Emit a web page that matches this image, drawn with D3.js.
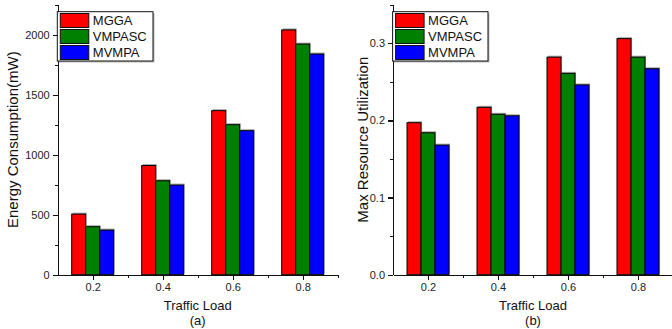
<!DOCTYPE html>
<html lang="en">
<head>
    <meta charset="UTF-8">
    <title>Energy consumption and resource utilization vs traffic load</title>
    <script src="https://d3js.org/d3.v7.min.js"></script>
    <style>
        body { margin: 0; background: #fff; }
        svg { display: block; font-family: Arial, "Liberation Sans", sans-serif; }
        .axis path, .axis line { stroke: #111; stroke-width: 1.2; shape-rendering: crispEdges; }
        .axis text { font-size: 11px; fill: #222; }
        .axis-title { font-size: 15px; fill: #111; }
        .x-title { font-size: 13px; fill: #111; }
        .legend text { font-size: 13px; fill: #111; }
    </style>
</head>
<body>
    <svg width="672" height="329"></svg>
    <script>
        // data
        const loads = [0.2, 0.4, 0.6, 0.8];
        const seriesNames = ["MGGA", "VMPASC", "MVMPA"];
        const seriesColors = ["#ff0000", "#008000", "#0000ff"];

        const energyMGGA = [505, 910, 1367, 2040];
        const energyVMPASC = [400, 783, 1250, 1922];
        const energyMVMPA = [372, 747, 1200, 1839];

        const utilMGGA = [0.197, 0.217, 0.282, 0.306];
        const utilVMPASC = [0.184, 0.208, 0.261, 0.282];
        const utilMVMPA = [0.168, 0.206, 0.246, 0.267];

        const loadTicks = [0.2, 0.4, 0.6, 0.8];
        const loadMinorTicks = [0.3, 0.5, 0.7, 0.9];
        const energyTicks = [0, 500, 1000, 1500, 2000];
        const energyMinorTicks = [250, 750, 1250, 1750, 2250];
        const utilTicks = [0, 0.1, 0.2, 0.3];
        const utilMinorTicks = [0.05, 0.15, 0.25, 0.35];

        const svg = d3.select("svg");

        function drawPanel(opt) {
            const x = d3.scaleLinear().domain([0.1, 0.9]).range([opt.left, opt.left + 280]);
            const y = d3.scaleLinear().domain([0, opt.yMax]).range([274.7, 4.7]);
            const g = svg.append("g");

            // bars (grey shadow behind each)
            const bw = x(0.04) - x(0);
            opt.series.forEach(function(vals, i) {
                const bars = vals.map((v, k) => ({ load: loads[k], v: v }));
                g.append("g").selectAll("rect")
                    .data(bars)
                    .enter().append("rect")
                    .attr("x", d => x(d.load - 0.06 + i * 0.04) + 1)
                    .attr("y", d => y(d.v) - 1.5)
                    .attr("width", bw)
                    .attr("height", d => y(0) - y(d.v))
                    .attr("fill", "#aaa");
                g.append("g").selectAll("rect")
                    .data(bars)
                    .enter().append("rect")
                    .attr("x", d => x(d.load - 0.06 + i * 0.04))
                    .attr("y", d => y(d.v))
                    .attr("width", bw)
                    .attr("height", d => y(0) - y(d.v))
                    .attr("fill", seriesColors[i])
                    .attr("stroke", "#000")
                    .attr("stroke-width", 1);
            });

            // x axis
            g.append("g")
                .attr("class", "axis")
                .attr("transform", "translate(0," + y(0) + ")")
                .call(d3.axisBottom(x).tickValues(loadMinorTicks).tickSize(3).tickSizeOuter(0).tickFormat(""));
            g.append("g")
                .attr("class", "axis")
                .attr("transform", "translate(0," + y(0) + ")")
                .call(d3.axisBottom(x).tickValues(loadTicks).tickSize(5).tickSizeOuter(0)
                    .tickPadding(4).tickFormat(d3.format(".1f")));

            // y axis
            g.append("g")
                .attr("class", "axis")
                .attr("transform", "translate(" + x(0.1) + ",0)")
                .call(d3.axisLeft(y).tickValues(opt.yMinor).tickSize(3).tickSizeOuter(0).tickFormat(""));
            g.append("g")
                .attr("class", "axis")
                .attr("transform", "translate(" + x(0.1) + ",0)")
                .call(d3.axisLeft(y).tickValues(opt.yTicks).tickSize(5).tickSizeOuter(0)
                    .tickPadding(3).tickFormat(opt.yFormat));

            // titles
            g.append("text")
                .attr("class", "axis-title")
                .attr("transform", "translate(" + (x(0.1) - opt.yTitleOffset) + "," + (y(0) + y(opt.yMax)) / 2 + ") rotate(-90)")
                .attr("text-anchor", "middle")
                .text(opt.yTitle);
            g.append("text")
                .attr("class", "x-title")
                .attr("x", x(0.5))
                .attr("y", 310)
                .attr("text-anchor", "middle")
                .text("Traffic Load");
            g.append("text")
                .attr("class", "x-title")
                .attr("x", x(0.5))
                .attr("y", 325)
                .attr("text-anchor", "middle")
                .text(opt.tag);

            // legend
            const lg = g.append("g")
                .attr("class", "legend")
                .attr("transform", "translate(" + (x(0.1) - 0.4) + ",11.7)");
            lg.append("rect")
                .attr("x", 1.5).attr("y", 1.5)
                .attr("width", opt.legendW).attr("height", 49.3)
                .attr("fill", "#bbb");
            lg.append("rect")
                .attr("width", opt.legendW).attr("height", 49.3)
                .attr("fill", "#fff")
                .attr("stroke", "#111")
                .attr("stroke-width", 1);
            seriesNames.forEach(function(name, i) {
                lg.append("rect")
                    .attr("x", 3).attr("y", 1.8 + i * 16)
                    .attr("width", 28.5).attr("height", 14)
                    .attr("fill", seriesColors[i])
                    .attr("stroke", "#111")
                    .attr("stroke-width", 1);
                lg.append("text")
                    .attr("x", 35.5)
                    .attr("y", 13.5 + i * 16)
                    .text(name);
            });
        }

        drawPanel({
            left: 57.7,
            yMax: 2250,
            yTicks: energyTicks,
            yMinor: energyMinorTicks,
            yFormat: d3.format("d"),
            yTitle: "Energy Consumption(mW)",
            yTitleOffset: 40,
            tag: "(a)",
            legendW: 95.7,
            series: [energyMGGA, energyVMPASC, energyMVMPA]
        });

        drawPanel({
            left: 393,
            yMax: 0.35,
            yTicks: utilTicks,
            yMinor: utilMinorTicks,
            yFormat: d3.format(".1f"),
            yTitle: "Max Resource Utilization",
            yTitleOffset: 25,
            tag: "(b)",
            legendW: 95.4,
            series: [utilMGGA, utilVMPASC, utilMVMPA]
        });
    </script>
</body>
</html>
